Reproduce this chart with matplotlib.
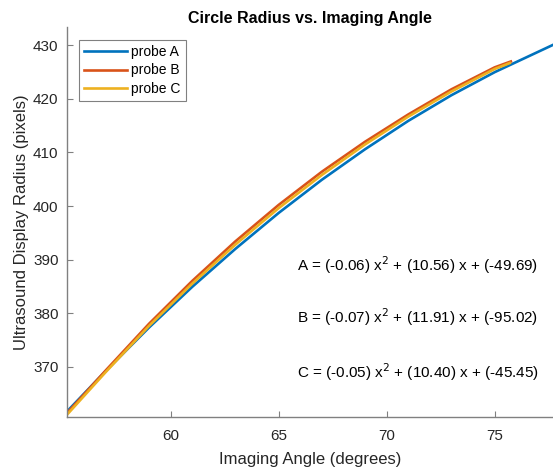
import matplotlib.pyplot as plt

plt.rcParams['font.family'] = ['Liberation Sans', 'DejaVu Sans']

# probe A (full range)
angle_a = [55.2, 57, 59, 61, 63, 65, 67, 69, 71, 73, 75, 77.7]
radius_a = [361.6, 369.2, 377.3, 384.9, 392.0, 398.7, 404.9, 410.6, 415.9, 420.7, 425.0, 430.1]

# probe B
angle_b = [55.2, 57, 59, 61, 63, 65, 67, 69, 71, 73, 75, 75.75]
radius_b = [361.3, 369.3, 378.0, 386.0, 393.4, 400.2, 406.4, 412.0, 417.1, 421.8, 425.9, 427.0]

# probe C
angle_c = [55.2, 57, 59, 61, 63, 65, 67, 69, 71, 73, 75, 75.7]
radius_c = [361.0, 369.0, 377.6, 385.5, 392.8, 399.6, 405.8, 411.5, 416.7, 421.4, 425.6, 426.7]

labels = ['probe A', 'probe B', 'probe C']
colors = ['#0072BD', '#D95319', '#EDB120']
fits = ['A = (-0.06) x$^2$ + (10.56) x + (-49.69)',
        'B = (-0.07) x$^2$ + (11.91) x + (-95.02)',
        'C = (-0.05) x$^2$ + (10.40) x + (-45.45)']
fit_y = [388.9, 379.2, 368.9]

fig = plt.figure(figsize=(5.53, 4.69), dpi=100)
ax = fig.add_axes([0.121, 0.111, 0.879, 0.831])

for xs, ys, lab, c in zip([angle_a, angle_b, angle_c],
                          [radius_a, radius_b, radius_c], labels, colors):
    ax.plot(xs, ys, color=c, lw=1.9, label=lab)

for txt, y in zip(fits, fit_y):
    ax.text(65.85, y, txt, fontsize=11, va='center', ha='left', color='black')

ax.set_xlim(55.2, 77.7)
ax.set_ylim(360.6, 433.4)
ax.set_xticks([60, 65, 70, 75])
ax.set_yticks([370, 380, 390, 400, 410, 420, 430])

for s in ['top', 'right']:
    ax.spines[s].set_visible(False)
for s in ['left', 'bottom']:
    ax.spines[s].set_color('#808080')
    ax.spines[s].set_linewidth(1.0)
ax.tick_params(direction='in', length=4, color='#808080', labelsize=11,
               labelcolor='#262626')
ax.tick_params(axis='x', pad=9)
ax.tick_params(axis='y', pad=6)

ax.set_xlabel('Imaging Angle (degrees)', fontsize=12, color='#262626', labelpad=6)
ax.set_ylabel('Ultrasound Display Radius (pixels)', fontsize=12, color='#262626', labelpad=3)
ax.set_title('Circle Radius vs. Imaging Angle', fontsize=11.5, fontweight='bold', pad=3)

leg = ax.legend(loc='upper left', fontsize=10, fancybox=False, framealpha=1,
                edgecolor='#808080', borderaxespad=0.9, handlelength=3.1,
                handletextpad=0.3, labelspacing=0.35, borderpad=0.35)
leg.get_frame().set_linewidth(0.8)

fig.savefig('out.png', dpi=100)
